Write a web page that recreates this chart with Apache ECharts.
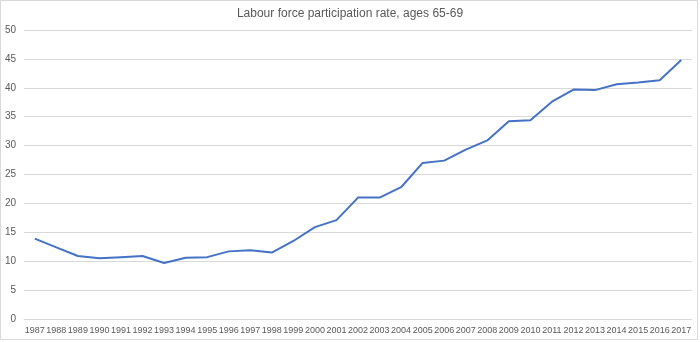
<!DOCTYPE html>
<html><head><meta charset="utf-8">
<script src="https://cdn.jsdelivr.net/npm/echarts@6/dist/echarts.min.js"></script>
<style>html,body{margin:0;padding:0;background:#fff}#c{width:700px;height:342px}</style>
</head><body><div id="c"></div>
<script>
const years = ['1987','1988','1989','1990','1991','1992','1993','1994','1995','1996','1997','1998','1999','2000','2001','2002','2003','2004','2005','2006','2007','2008','2009','2010','2011','2012','2013','2014','2015','2016','2017'];
const participationRate = [13.9,12.4,10.9,10.5,10.7,10.9,9.7,10.6,10.7,11.7,11.9,11.5,13.5,15.9,17.1,21.0,21.0,22.8,27.0,27.4,29.3,30.9,34.2,34.4,37.6,39.7,39.6,40.6,40.9,41.3,44.8];
const yTicks = {min:0, max:50, interval:5};
const titleText = 'Labour force participation rate, ages 65-69';

const chart = echarts.init(document.getElementById('c'), null, {renderer:'canvas'});
const font = 'Liberation Sans';
chart.setOption({
  animation:false,
  backgroundColor:'#fff',
  title:{text:titleText,left:'center',top:3,textStyle:{fontFamily:font,fontSize:12,fontWeight:'normal',color:'#595959'}},
  grid:{left:24,right:8,top:30,bottom:23,containLabel:false},
  graphic:[{type:'rect',shape:{x:0.5,y:0.5,width:697,height:339},style:{fill:'none',stroke:'#d9d9d9',lineWidth:1},silent:true}],
  xAxis:{type:'category',data:years,boundaryGap:true,
    axisLine:{lineStyle:{color:'#d9d9d9'}},axisTick:{show:false},
    axisLabel:{interval:0,margin:7,fontFamily:font,fontSize:9,color:'#595959'}},
  yAxis:{type:'value',min:yTicks.min,max:yTicks.max,interval:yTicks.interval,
    axisLine:{show:false},axisTick:{show:false},
    splitLine:{lineStyle:{color:'#d9d9d9'}},
    axisLabel:{margin:8,fontFamily:font,fontSize:10,color:'#595959'}},
  series:[{type:'line',data:participationRate,symbol:'none',lineStyle:{color:'#4472C4',width:2},itemStyle:{color:'#4472C4'}}]
});
</script></body></html>
